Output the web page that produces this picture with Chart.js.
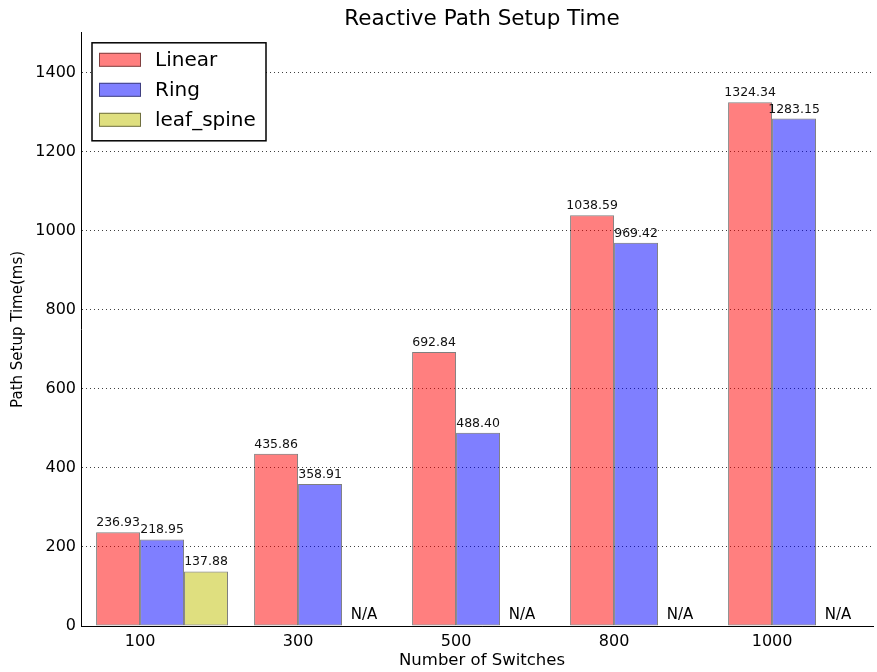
<!DOCTYPE html>
<html>
<head>
<meta charset="utf-8">
<script src="https://cdn.jsdelivr.net/npm/chart.js@4/dist/chart.umd.min.js"></script>
<style>
  html, body { margin: 0; padding: 0; overflow: hidden; background: #fff; width: 877px; height: 672px; }
  #wrap { position: relative; width: 874px; height: 672px; overflow: hidden; }
  #c { display: block; position: absolute; left: 0; top: 0; }
</style>
</head>
<body>
<div id="wrap"><canvas id="c" width="920" height="672"></canvas></div>
<script>
// ---- data ----
const categories = ["100", "300", "500", "800", "1000"];
const linearValues = [236.93, 435.86, 692.84, 1038.59, 1324.34];
const ringValues = [218.95, 358.91, 488.40, 969.42, 1283.15];
const leafSpineValues = [137.88, null, null, null, null];
const yTickStep = 200;
const yMax = 1500;

const seriesNames = ["Linear", "Ring", "leaf_spine"];
const seriesValues = [linearValues, ringValues, leafSpineValues];
const seriesFill = ["rgba(255,0,0,0.5)", "rgba(0,0,255,0.5)", "rgba(191,191,0,0.5)"];
const edge = "rgba(0,0,0,0.5)";

const CAT_PCT = 0.835;                 // fraction of a category slot used by a group
const halfBarUnits = CAT_PCT / 3 / 2;  // tick sits on the Linear/Ring boundary

Chart.defaults.font.family = "'DejaVu Sans', 'Liberation Sans', sans-serif";
Chart.defaults.color = "#000";

const datasets = seriesNames.map((name, s) => ({
  label: name,
  data: seriesValues[s].map((v, i) => ({ x: i, y: v })),
  backgroundColor: seriesFill[s],
  borderColor: edge,
  borderWidth: 1,
  borderSkipped: false,
  categoryPercentage: CAT_PCT,
  barPercentage: 1.0
}));

const valueLabels = {
  id: "valueLabels",
  afterDatasetsDraw(chart) {
    const ctx = chart.ctx;
    const ca = chart.chartArea;
    ctx.save();
    chart.data.datasets.forEach((ds, s) => {
      const meta = chart.getDatasetMeta(s);
      meta.data.forEach((el, i) => {
        const v = ds.data[i].y;
        ctx.textAlign = "center";
        ctx.textBaseline = "alphabetic";
        if (v === null || v === undefined) {
          let x = el.x;
          if (!isFinite(x)) {
            const prev = chart.getDatasetMeta(s - 1).data[i];
            x = prev.x + prev.width;
          }
          ctx.font = "15px 'DejaVu Sans'";
          ctx.fillStyle = "#000";
          ctx.fillText("N/A", x, ca.bottom - 7);
        } else {
          ctx.font = "12.5px 'DejaVu Sans'";
          ctx.fillStyle = "#111";
          ctx.fillText(v.toFixed(2), el.x, el.y - 6);
        }
      });
    });
    ctx.restore();
  }
};

const boxedLegend = {
  id: "boxedLegend",
  afterDraw(chart) {
    const ctx = chart.ctx;
    const ca = chart.chartArea;
    const fx = ca.left + 11, fy = ca.top + 10, fw = 174, fh = 98;
    ctx.save();
    ctx.beginPath();
    ctx.fillStyle = "#fff";
    ctx.fillRect(fx, fy, fw, fh);
    ctx.lineWidth = 1.5;
    ctx.strokeStyle = "#000";
    ctx.strokeRect(fx, fy, fw, fh);
    chart.data.datasets.forEach((ds, s) => {
      const cy = fy + 17 + 30 * s;
      ctx.fillStyle = "#fff";
      ctx.fillRect(fx + 7, cy - 7, 42, 14);
      ctx.fillStyle = ds.backgroundColor;
      ctx.fillRect(fx + 7, cy - 7, 42, 14);
      ctx.lineWidth = 1;
      ctx.strokeStyle = ds.borderColor;
      ctx.strokeRect(fx + 7.5, cy - 6.5, 41, 13);
      ctx.fillStyle = "#000";
      ctx.font = "20px 'DejaVu Sans'";
      ctx.textAlign = "left";
      ctx.textBaseline = "middle";
      ctx.fillText(ds.label, fx + 63, cy + 0.5);
    });
    ctx.restore();
  }
};

new Chart(document.getElementById("c"), {
  type: "bar",
  data: { datasets },
  options: {
    responsive: false,
    animation: false,
    devicePixelRatio: 1,
    layout: { padding: { left: 0, right: 37, top: 0, bottom: 0 } },
    plugins: {
      legend: { display: false },
      tooltip: { enabled: false },
      title: {
        display: true,
        text: "Reactive Path Setup Time",
        fullSize: false,
        color: "#000",
        font: { size: 21.5, weight: "normal", lineHeight: 1.2 },
        padding: { top: 7, bottom: 0 }
      }
    },
    scales: {
      x: {
        type: "linear",
        min: -0.513,
        max: 4.563,
        offset: false,
        grid: { display: false, offset: false, drawTicks: false },
        border: { display: true, color: "#000", width: 1 },
        afterBuildTicks(scale) {
          scale.ticks = categories.map((c, i) => ({ value: i - halfBarUnits }));
        },
        afterFit(scale) { scale.height = 46; },
        ticks: {
          autoSkip: false,
          maxRotation: 0,
          padding: 6,
          font: { size: 16 },
          color: "#000",
          callback: (value, index) => categories[index]
        },
        title: {
          display: true,
          text: "Number of Switches",
          color: "#000",
          font: { size: 16.5, lineHeight: 1.2 },
          padding: { top: 0, bottom: 1 }
        }
      },
      y: {
        min: 0,
        max: yMax,
        afterFit(scale) { scale.width = 81; },
        grid: { drawTicks: false, lineWidth: 1, color: "rgba(0,0,0,0.75)" },
        border: { display: true, color: "#000", width: 1, dash: [1, 3] },
        ticks: {
          stepSize: yTickStep,
          includeBounds: false,
          padding: 5,
          font: { size: 16 },
          color: "#000",
          callback: (value) => String(value)
        },
        title: {
          display: true,
          text: "Path Setup Time(ms)",
          color: "#000",
          font: { size: 15, lineHeight: 1.2 },
          padding: { top: 9, bottom: 0 }
        }
      }
    }
  },
  plugins: [valueLabels, boxedLegend]
});
</script>
</body>
</html>
